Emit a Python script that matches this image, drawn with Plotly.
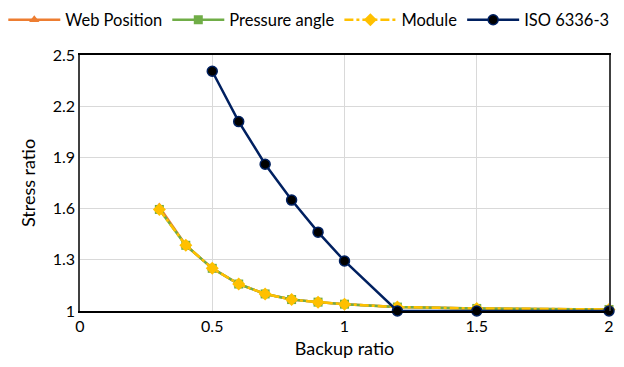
import plotly.graph_objects as go

x_main = [0.3, 0.4, 0.5, 0.6, 0.7, 0.8, 0.9, 1.0, 1.2, 1.5, 2.0]
web_position = [1.61, 1.385, 1.25, 1.158, 1.10, 1.067, 1.052, 1.04, 1.023, 1.015, 1.009]
pressure_angle = [1.595, 1.385, 1.25, 1.158, 1.10, 1.067, 1.052, 1.04, 1.023, 1.015, 1.009]
module = [1.595, 1.385, 1.25, 1.158, 1.10, 1.067, 1.052, 1.04, 1.023, 1.015, 1.009]
x_iso = [0.5, 0.6, 0.7, 0.8, 0.9, 1.0, 1.2, 1.5, 2.0]
iso_6336 = [2.405, 2.11, 1.86, 1.65, 1.462, 1.293, 1.0, 1.0, 1.0]

x_ticks = [0, 0.5, 1, 1.5, 2]
x_tick_labels = ["0", "0.5", "1", "1.5", "2"]
y_ticks = [1, 1.3, 1.6, 1.9, 2.2, 2.5]
y_tick_labels = ["1", "1.3", "1.6", "1.9", "2.2", "2.5"]

fig = go.Figure()
fig.add_trace(go.Scatter(x=x_main, y=web_position, name="Web Position", mode="lines+markers",
                         line=dict(color="#ED7D31", width=2.5), cliponaxis=False,
                         marker=dict(symbol="triangle-up", size=9, color="#ED7D31")))
fig.add_trace(go.Scatter(x=x_main, y=pressure_angle, name="Pressure angle", mode="lines+markers",
                         line=dict(color="#70AD47", width=2.5), cliponaxis=False,
                         marker=dict(symbol="square", size=9, color="#70AD47")))
fig.add_trace(go.Scatter(x=x_main, y=module, name="Module", mode="lines+markers",
                         line=dict(color="#FFC000", width=2.5, dash="dashdot"), cliponaxis=False,
                         marker=dict(symbol="diamond", size=10, color="#FFC000")))
fig.add_trace(go.Scatter(x=x_iso, y=iso_6336, name="ISO 6336-3", mode="lines+markers",
                         line=dict(color="#002060", width=2.5), cliponaxis=False,
                         marker=dict(symbol="circle", size=10, color="#000000",
                                     line=dict(color="#002060", width=1.5))))

font_family = "Lato, 'Open Sans', sans-serif"
fig.update_layout(
    width=624, height=367,
    margin=dict(l=80, r=15, t=55, b=56, autoexpand=False),
    paper_bgcolor="white", plot_bgcolor="white",
    font=dict(family=font_family, size=16, color="#000000"),
    showlegend=True,
    legend=dict(orientation="h", x=-0.145, xanchor="left",
                y=1.205, yanchor="top",
                font=dict(size=16.5), itemwidth=52,
                traceorder="normal", tracegroupgap=0),
    xaxis=dict(range=[0, 2], tickvals=x_ticks, ticktext=x_tick_labels,
               showgrid=True, gridcolor="#D9D9D9", gridwidth=1,
               showline=True, linecolor="#000000", linewidth=1.5, mirror=True,
               zeroline=False, ticks="", tickfont=dict(size=16), automargin=False,
               title=dict(text="Backup ratio", font=dict(size=18), standoff=8)),
    yaxis=dict(range=[1, 2.5], tickvals=y_ticks, ticktext=y_tick_labels,
               showgrid=True, gridcolor="#D9D9D9", gridwidth=1,
               showline=True, linecolor="#404040", linewidth=1.5, mirror=True,
               zeroline=False, ticks="", tickfont=dict(size=16), automargin=False,
               title=dict(text="Stress ratio", font=dict(size=18), standoff=12)),
)

fig.write_html("out.html")
